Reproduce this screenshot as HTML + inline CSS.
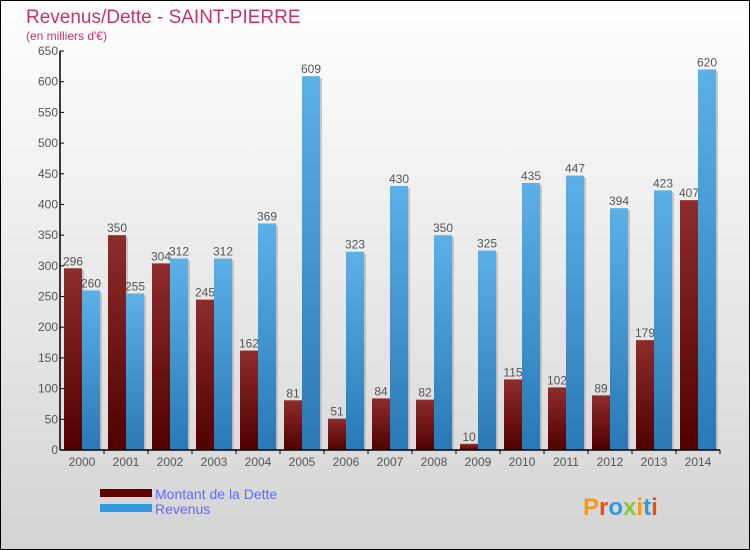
<!DOCTYPE html>
<html><head><meta charset="utf-8"><style>
body{margin:0}
svg{display:block;font-family:"Liberation Sans",sans-serif}
</style></head><body>
<svg id="c" width="750" height="550">
<defs>
<linearGradient id="bg" x1="0" y1="0" x2="0" y2="1"><stop offset="0" stop-color="#ffffff"/><stop offset="1" stop-color="#d4d4d4"/></linearGradient>
<linearGradient id="gd" x1="0" y1="0" x2="0" y2="1"><stop offset="0" stop-color="#8e2c2c"/><stop offset="1" stop-color="#500000"/></linearGradient>
<linearGradient id="gr" x1="0" y1="0" x2="0" y2="1"><stop offset="0" stop-color="#5cb0e8"/><stop offset="1" stop-color="#2a78b6"/></linearGradient>
</defs>
<rect x="0.5" y="0.5" width="749" height="549" fill="url(#bg)" stroke="#000"/>
<text x="26" y="23" font-size="19" fill="#c8336a">Revenus/Dette - SAINT-PIERRE</text>
<text x="26" y="40" font-size="12" fill="#c8336a">(en milliers d'€)</text>
<g id="bars"></g>
<g id="axes"></g>
<rect x="100" y="489" width="52" height="8" fill="#600000"/>
<rect x="100" y="504" width="52" height="8" fill="#3399dd"/>
<text x="155" y="499" font-size="14" fill="#6666ff">Montant de la Dette</text>
<text x="155" y="514" font-size="14" fill="#6666ff">Revenus</text>
<text x="583" y="515" font-size="24" font-weight="bold" fill="#f39a1a">P<tspan fill="#e8501a">r</tspan><tspan fill="#3399dd">o</tspan><tspan fill="#8cc63f">x</tspan><tspan fill="#f39a1a">i</tspan><tspan fill="#3399dd">t</tspan><tspan fill="#e8501a">i</tspan></text>
</svg>
<script>
const years=["2000","2001","2002","2003","2004","2005","2006","2007","2008","2009","2010","2011","2012","2013","2014"];
const dette=[296,350,304,245,162,81,51,84,82,10,115,102,89,179,407];
const revenus=[260,255,312,312,369,609,323,430,350,325,435,447,394,423,620];
const yTicks=[0,50,100,150,200,250,300,350,400,450,500,550,600,650];
const NS="http://www.w3.org/2000/svg";
const x0=60,x1=720,yb=450,yt=51,ymax=650;
const gw=(x1-x0)/years.length;
const y=v=>yb-(v/ymax)*(yb-yt);
function mk(t,a,p){const e=document.createElementNS(NS,t);for(const k in a)e.setAttribute(k,a[k]);p.appendChild(e);return e;}
const B=document.getElementById('bars'),A=document.getElementById('axes');
years.forEach((yr,i)=>{
 const gx=x0+i*gw;
 [[dette[i],gx+4,'url(#gd)','bar-dette-'+yr],[revenus[i],gx+22,'url(#gr)','bar-revenus-'+yr]].forEach(([v,bx,f,n])=>{
  const s=mk('rect',{x:bx+2,y:y(v)+2,width:18,height:yb-y(v)-2,fill:'#aaa',opacity:0.6},B);
  
  
  const r=mk('rect',{x:bx,y:y(v),width:18,height:yb-y(v),fill:f},B);
  
  
  const t=mk('text',{x:bx+9,y:y(v)-3,'font-size':12,fill:'#555','text-anchor':'middle'},B);
  t.textContent=v;
  
  
 });
 const tl=mk('text',{x:gx+gw/2,y:466,'font-size':12,fill:'#555','text-anchor':'middle'},A);
 tl.textContent=yr;
 
 
 mk('line',{x1:gx+gw,x2:gx+gw,y1:yb,y2:yb+4,stroke:'#000'},A);
});
yTicks.forEach(v=>{
 mk('line',{x1:x0,x2:x0+4,y1:y(v),y2:y(v),stroke:'#000'},A);
 const t=mk('text',{x:x0-2,y:y(v)+4,'font-size':12,fill:'#555','text-anchor':'end'},A);
 t.textContent=v;
 
 
});
const ya=mk('line',{x1:x0,x2:x0,y1:yt,y2:yb,stroke:'#000','stroke-width':1.5},A);


const xa=mk('line',{x1:x0,x2:x1,y1:yb,y2:yb,stroke:'#000','stroke-width':1.5},A);


</script>
</body></html>
